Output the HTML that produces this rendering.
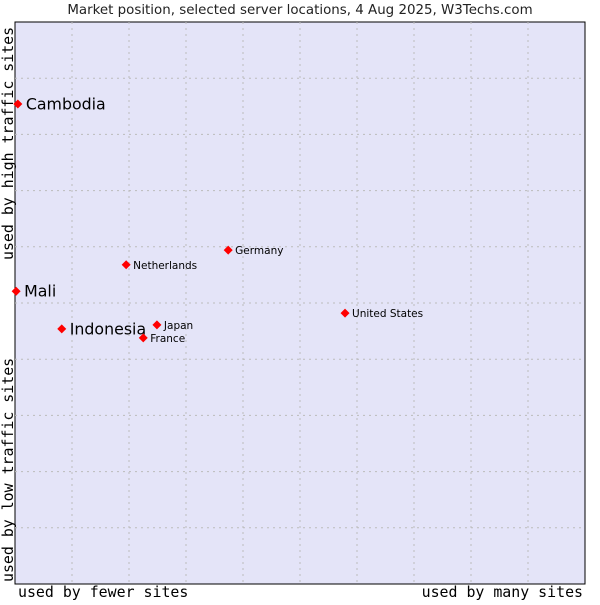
<!DOCTYPE html>
<html><head><meta charset="utf-8"><style>
body{margin:0;background:#fff;}
svg text{font-family:"DejaVu Sans","Liberation Sans",sans-serif;}
.mono{font-family:"DejaVu Sans Mono","Liberation Mono",monospace;}
</style></head><body>
<svg id="chart" width="600" height="600" xmlns="http://www.w3.org/2000/svg">
<text x="300" y="14" text-anchor="middle" font-size="13.4" fill="#222">Market position, selected server locations, 4 Aug 2025, W3Techs.com</text>
<rect x="15" y="22" width="570" height="562" fill="#e4e4f8" stroke="#000" stroke-width="1"/>
<g id="grid"></g>
<g id="points"></g>
<text class="mono" x="18" y="597" font-size="14.9" fill="#000">used by fewer sites</text>
<text class="mono" x="583" y="597" text-anchor="end" font-size="14.9" fill="#000">used by many sites</text>
<text class="mono" transform="translate(13,260) rotate(-90)" font-size="14.9" fill="#000">used by high traffic sites</text>
<text class="mono" transform="translate(13,582) rotate(-90)" font-size="14.9" fill="#000">used by low traffic sites</text>
</svg>
<script>
const names = ["Cambodia","Mali","Indonesia","Netherlands","Germany","Japan","France","United States"];
const xValues = [0.5,0.2,8.2,19.5,37.4,24.9,22.5,57.9];
const yValues = [85.4,52.1,45.4,56.8,59.4,46.1,43.8,48.2];
const bigLabel = [true,true,true,false,false,false,false,false];
const L=15,T=22,W=570,H=562;
function xs(v){return L+v/100*W;}
function ys(v){return T+H-v/100*H;}
const NS="http://www.w3.org/2000/svg";
const grid=document.getElementById('grid');
for(let i=1;i<10;i++){
  const a=document.createElementNS(NS,'line');
  a.setAttribute('x1',xs(i*10));a.setAttribute('x2',xs(i*10));a.setAttribute('y1',T);a.setAttribute('y2',T+H);
  a.setAttribute('stroke','#bbb');a.setAttribute('stroke-dasharray','2,4');
  
  
  grid.appendChild(a);
  const b=document.createElementNS(NS,'line');
  b.setAttribute('y1',ys(i*10));b.setAttribute('y2',ys(i*10));b.setAttribute('x1',L);b.setAttribute('x2',L+W);
  b.setAttribute('stroke','#bbb');b.setAttribute('stroke-dasharray','2,4');
  
  
  grid.appendChild(b);
}
const pts=document.getElementById('points');
names.forEach((n,i)=>{
  const x=xs(xValues[i]),y=ys(yValues[i]);
  const d=document.createElementNS(NS,'path');
  d.setAttribute('d',`M${x-4.5},${y} L${x},${y-4.5} L${x+4.5},${y} L${x},${y+4.5} Z`);
  d.setAttribute('fill','#f00');
  
  
  pts.appendChild(d);
  const t=document.createElementNS(NS,'text');
  t.setAttribute('x',x+(bigLabel[i]?8:7));
  t.setAttribute('y',y+(bigLabel[i]?5.5:4));
  t.setAttribute('font-size',bigLabel[i]?'15.8':'10.5');
  t.setAttribute('fill','#000');
  t.textContent=n;
  
  
  pts.appendChild(t);
});
</script>
</body></html>
